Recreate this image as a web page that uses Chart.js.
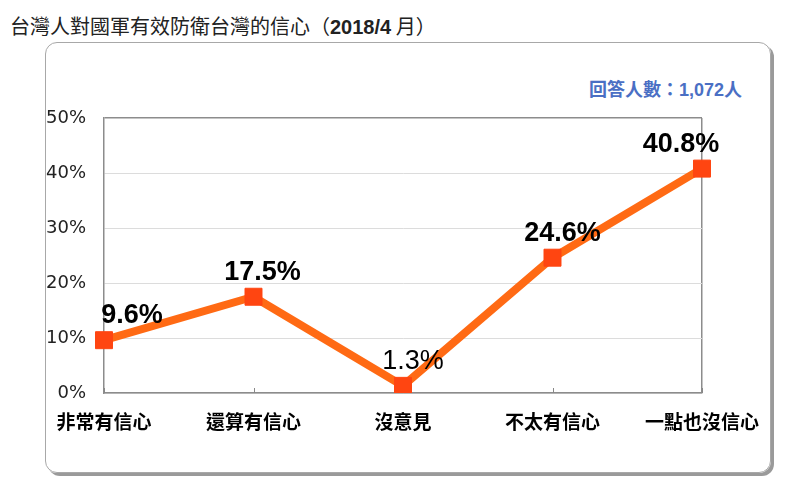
<!DOCTYPE html>
<html>
<head>
<meta charset="utf-8">
<script src="https://cdn.jsdelivr.net/npm/chart.js@4.4.0/dist/chart.umd.min.js"></script>
<style>
  body { margin: 0; background: #fff; width: 800px; height: 502px; overflow: hidden; position: relative; }
  #title { position: absolute; left: 10px; top: 11px; font: 20px "Noto Sans CJK TC", sans-serif; color: #222; white-space: nowrap; }
  #title b { font-family: "Liberation Sans", Arial, sans-serif; }
  #box { position: absolute; left: 45px; top: 42px; width: 724px; height: 429px; border: 1.5px solid #a8a8a8; border-radius: 12px; box-shadow: 3px 3px 0 #9a9a9a; }
  #note { position: absolute; right: 58px; top: 75px; font: bold 18px "Noto Sans CJK TC", sans-serif; color: #4a6fc4; }
  canvas { position: absolute; left: 0; top: 0; }
</style>
</head>
<body>
<div id="title">台灣人對國軍有效防衛台灣的信心（<b>2018/4</b> 月）</div>
<div id="box"></div>
<div id="note">回答人數：<span style="font-family:'Liberation Sans',Arial,sans-serif">1,072</span>人</div>
<canvas id="chart1" width="800" height="502"></canvas>
<script>
// categories and values (percent)
const categories = ['非常有信心', '還算有信心', '沒意見', '不太有信心', '一點也沒信心'];
const values = [9.6, 17.5, 1.3, 24.6, 40.8];
const yTicks = [0, 10, 20, 30, 40, 50];

// value labels above points
const valueLabels = {
    id: 'valueLabels',
    afterDatasetsDraw(chart, args, opts) {
        const ctx = chart.ctx;
        const meta = chart.getDatasetMeta(0);
        ctx.save();
        ctx.fillStyle = '#000';
        ctx.textAlign = 'center';
        ctx.textBaseline = 'alphabetic';
        meta.data.forEach((pt, i) => {
            const weight = opts.bold[i] ? 'bold ' : '';
            ctx.font = weight + '27px "Liberation Sans", Arial, sans-serif';
            ctx.fillText(values[i].toFixed(1) + '%', pt.x + opts.dx[i], pt.y - 17);
        });
        ctx.restore();
    }
};

// little tick marks sitting on the x axis
const axisTicks = {
    id: 'axisTicks',
    beforeDatasetsDraw(chart) {
        const ctx = chart.ctx;
        const x = chart.scales.x;
        const bottom = chart.chartArea.bottom;
        ctx.save();
        ctx.strokeStyle = '#888';
        ctx.lineWidth = 1;
        categories.forEach((c, i) => {
            const px = Math.round(x.getPixelForValue(i)) + 0.5;
            ctx.beginPath();
            ctx.moveTo(px, bottom);
            ctx.lineTo(px, bottom - 5);
            ctx.stroke();
        });
        ctx.restore();
    }
};

const ctx = document.querySelector('#chart1');
new Chart(ctx, {
    type: 'line',
    data: {
        labels: categories,
        datasets: [{
            data: values,
            borderColor: '#ff6a14',
            borderWidth: 8,
            pointStyle: 'rect',
            pointRadius: 12,
            pointHoverRadius: 12,
            pointBackgroundColor: '#ff4511',
            pointBorderColor: '#ff4511',
            pointBorderWidth: 1,
            tension: 0
        }]
    },
    options: {
        responsive: false,
        animation: false,
        events: [],
        layout: { padding: { left: 0, right: 98, top: 118, bottom: 0 } },
        plugins: {
            legend: { display: false },
            tooltip: { enabled: false },
            valueLabels: {
                dx: [28, 9, 10, 10, -21],
                bold: [true, true, false, true, true]
            }
        },
        scales: {
            x: {
                offset: false,
                afterFit: s => { s.height = 109; },
                grid: {
                    drawTicks: false,
                    color: c => c.index === categories.length - 1 ? '#8c8c8c' : 'rgba(0,0,0,0)',
                    lineWidth: 1.5
                },
                border: { color: '#8c8c8c', width: 1.5 },
                ticks: {
                    padding: 17,
                    color: '#000',
                    maxRotation: 0,
                    font: { family: '"Noto Sans CJK TC", sans-serif', size: 19, weight: 'bold' }
                }
            },
            y: {
                min: 0,
                max: 50,
                afterFit: s => { s.width = 104; },
                afterBuildTicks: s => { s.ticks = yTicks.map(v => ({ value: v })); },
                grid: {
                    drawTicks: false,
                    color: c => c.tick && c.tick.value === 50 ? '#8c8c8c' : '#dcdcdc',
                    lineWidth: c => c.tick && c.tick.value === 50 ? 1.5 : 1
                },
                border: { color: '#8c8c8c', width: 1.5 },
                ticks: {
                    padding: 18,
                    color: '#222',
                    font: { family: '"DejaVu Sans", sans-serif', size: 18 },
                    callback: v => v + '%'
                }
            }
        }
    },
    plugins: [valueLabels, axisTicks]
});
</script>
</body>
</html>
